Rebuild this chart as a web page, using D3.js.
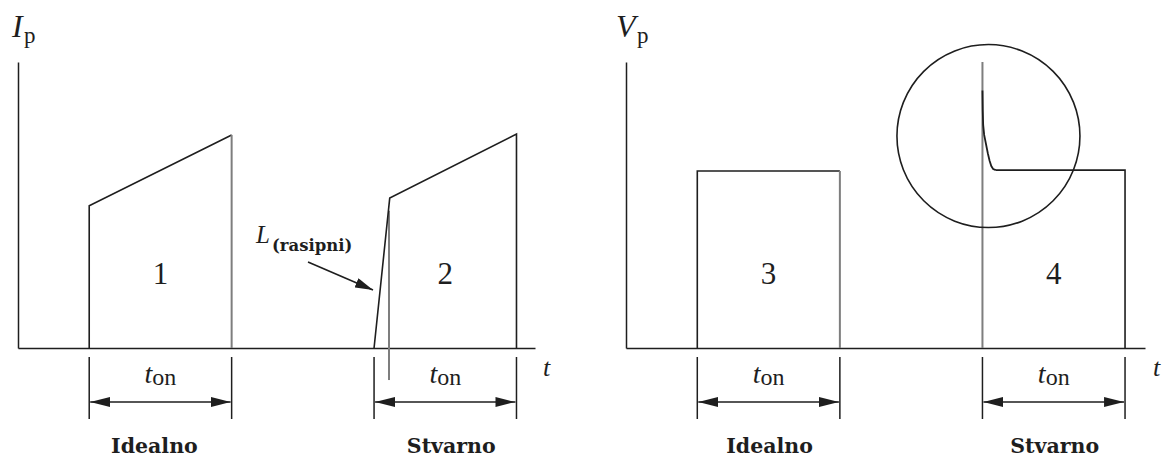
<!DOCTYPE html>
<html>
<head>
<meta charset="utf-8">
<script src="https://cdn.jsdelivr.net/npm/d3@7"></script>
<style>
  html, body { margin: 0; padding: 0; background: #fff; }
  svg { display: block; }
</style>
</head>
<body>
<svg id="chart" width="1163" height="459"></svg>
<script>
// ---------- DATA (time in units, t_on = 10; amplitude 0..10) ----------
const panelTitles = ["I", "V"];
const panelSubs = ["p", "p"];
const regionLabels = ["1", "2", "3", "4"];
const caseLabels = ["Idealno", "Stvarno"];
const onIntervals = [[5, 15], [25, 35]];

// Left panel (current)
const idealCurrent = [[5, 0], [5, 4.97], [15, 7.45]];
const idealCurrentEdge = [[15, 7.45], [15, 0]];
const realCurrent = [[25, 0], [26.1, 5.24], [35, 7.48], [35, 0]];
const realCurrentMarker = [[26.05, 4.8], [26.05, -1.12]];

// Right panel (voltage)
const idealVoltage = [[5, 0], [5, 6.19], [15, 6.19]];
const idealVoltageEdge = [[15, 6.19], [15, 0]];
const realVoltageStep = [[25, 0], [25, 10]];
const realVoltageSpike = [[25, 9.0], [25.02, 8.3], [25.05, 7.8], [25.12, 7.45], [25.24, 7.15], [25.38, 6.8], [25.5, 6.55], [25.62, 6.36], [25.75, 6.26], [25.94, 6.22]];
const realVoltagePlateau = [[25.94, 6.22], [35, 6.22], [35, 0]];
const spikeHighlight = { t: 25.42, v: 7.41 };

// ---------- LAYOUT ----------
const svg = d3.select("#chart");
const INK = "#1e1e1e", GREY = "#7e7e7e";
const SERIF = "'Liberation Serif', 'Times New Roman', serif";
const BOLDSERIF = "'DejaVu Serif', serif";

const y = d3.scaleLinear().domain([0, 10]).range([348, 62]);
const xL = d3.scaleLinear().domain([0, 36.3]).range([18, 535]);
const xR = d3.scaleLinear().domain([0, 36.4]).range([626, 1145]);

const defs = svg.append("defs");
defs.append("marker").attr("id", "ah").attr("viewBox", "0 0 20 10")
  .attr("refX", 20).attr("refY", 5).attr("markerWidth", 20).attr("markerHeight", 10)
  .attr("markerUnits", "userSpaceOnUse").attr("orient", "auto-start-reverse")
  .append("path").attr("d", "M0,0 L20,5 L0,10 Z").attr("fill", INK);
defs.append("marker").attr("id", "ah2").attr("viewBox", "0 0 18 10")
  .attr("refX", 18).attr("refY", 5).attr("markerWidth", 18).attr("markerHeight", 10)
  .attr("markerUnits", "userSpaceOnUse").attr("orient", "auto")
  .append("path").attr("d", "M0,0 L18,5 L0,10 Z").attr("fill", INK);

function drawPanel(x, idx) {
  const g = svg.append("g");
  g.append("g").attr("transform", `translate(0,${y(0)})`)
    .call(d3.axisBottom(x).tickValues([]).tickSizeOuter(0));
  g.append("g").attr("transform", `translate(${x(0)},0)`)
    .call(d3.axisLeft(y).tickValues([]).tickSizeOuter(0));
  g.selectAll(".domain").attr("stroke", INK).attr("stroke-width", 1.5);

  // axis titles
  g.append("text").attr("x", idx === 0 ? 12 : 616).attr("y", 37)
    .attr("font-family", SERIF).attr("fill", INK)
    .attr("font-style", "italic").attr("font-size", 32).text(panelTitles[idx]);
  g.append("text").attr("x", idx === 0 ? 24 : 637).attr("y", 43)
    .attr("font-family", SERIF).attr("fill", INK)
    .attr("font-size", 23).text(panelSubs[idx]);

  g.append("text").attr("x", x.range()[1] + 8).attr("y", 376)
    .attr("font-family", SERIF).attr("font-style", "italic").attr("font-size", 26)
    .attr("fill", INK).text("t");

  onIntervals.forEach((iv, k) => {
    const x0 = x(iv[0]), x1 = x(iv[1]);
    [x0, x1].forEach(xx => g.append("line").attr("x1", xx).attr("x2", xx)
      .attr("y1", 357).attr("y2", 419).attr("stroke", INK).attr("stroke-width", 1.5));
    g.append("line").attr("x1", x0 + 1).attr("x2", x1 - 1).attr("y1", 402).attr("y2", 402)
      .attr("stroke", INK).attr("stroke-width", 1.5)
      .attr("marker-start", "url(#ah)").attr("marker-end", "url(#ah)");
    const tx = g.append("text").attr("x", (x0 + x1) / 2).attr("y", 383)
      .attr("text-anchor", "middle").attr("font-family", SERIF).attr("fill", INK);
    tx.append("tspan").attr("font-style", "italic").attr("font-size", 28).text("t");
    tx.append("tspan").attr("font-size", 24).attr("dy", 2).text("on");
    const dx = (idx === 0) ? (k === 0 ? -6 : 6) : 1;
    g.append("text").attr("x", (x0 + x1) / 2 + dx).attr("y", 453)
      .attr("text-anchor", "middle").attr("font-family", BOLDSERIF).attr("font-weight", "bold")
      .attr("font-size", 20.5).attr("fill", INK).text(caseLabels[k]);
    g.append("text").attr("x", (x0 + x1) / 2).attr("y", 284)
      .attr("text-anchor", "middle").attr("font-family", SERIF).attr("font-size", 31)
      .attr("fill", INK).text(regionLabels[idx * 2 + k]);
  });
  return g;
}

const gL = drawPanel(xL, 0);
const gR = drawPanel(xR, 1);

const lineL = d3.line().x(d => xL(d[0])).y(d => y(d[1]));
const lineR = d3.line().x(d => xR(d[0])).y(d => y(d[1]));

function path(g, gen, data, color, w) {
  g.append("path").attr("d", gen(data)).attr("fill", "none")
    .attr("stroke", color).attr("stroke-width", w).attr("stroke-linejoin", "miter");
}

// left panel marks
path(gL, lineL, idealCurrent, INK, 1.6);
path(gL, lineL, idealCurrentEdge, GREY, 2);
path(gL, lineL, realCurrentMarker, GREY, 2);
path(gL, lineL, realCurrent, INK, 1.6);

// leakage inductance annotation
gL.append("text").attr("x", 256).attr("y", 243).attr("font-family", SERIF).attr("fill", INK)
  .attr("font-style", "italic").attr("font-size", 25).text("L");
gL.append("text").attr("x", 272).attr("y", 251).attr("font-family", BOLDSERIF)
  .attr("font-weight", "bold").attr("font-size", 16.5).attr("fill", INK).text("(rasipni)");
gL.append("line").attr("x1", 308).attr("y1", 262).attr("x2", 373).attr("y2", 290)
  .attr("stroke", INK).attr("stroke-width", 1.6).attr("marker-end", "url(#ah2)");

// right panel marks
path(gR, lineR, idealVoltage, INK, 1.6);
path(gR, lineR, idealVoltageEdge, GREY, 2);
path(gR, lineR, realVoltageStep, GREY, 2);
path(gR, lineR, realVoltageSpike, INK, 1.8);
path(gR, lineR, realVoltagePlateau, INK, 1.6);
gR.append("circle").attr("cx", xR(spikeHighlight.t)).attr("cy", y(spikeHighlight.v))
  .attr("r", 91.5).attr("fill", "none").attr("stroke", INK).attr("stroke-width", 1.6);
</script>
</body>
</html>
